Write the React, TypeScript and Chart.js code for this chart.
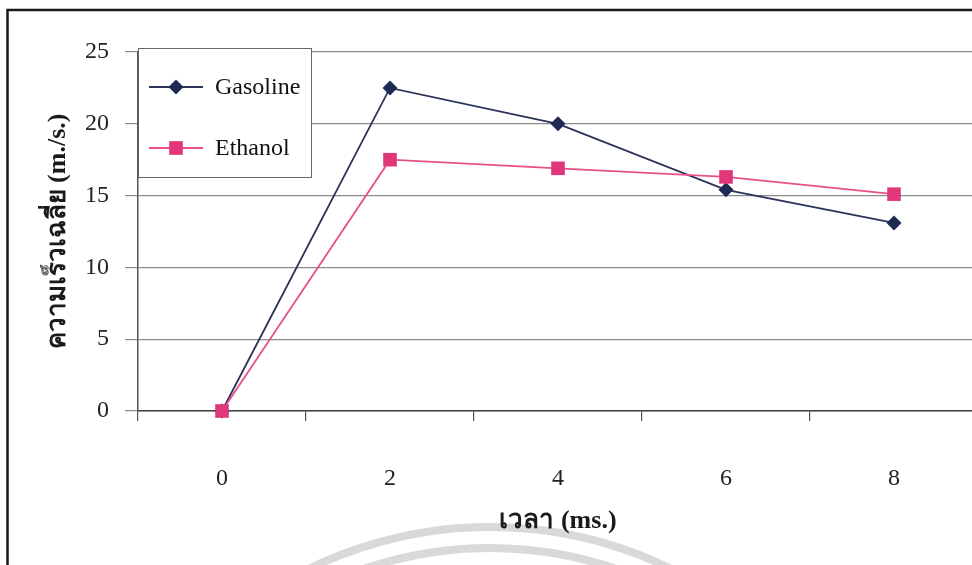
import React, { useEffect, useRef } from "react";
import { Chart, registerables } from "chart.js";

Chart.register(...registerables);

const categories = ["0", "2", "4", "6", "8"];
const gasoline = [0, 22.5, 20.0, 15.4, 13.1];
const ethanol = [0, 17.5, 16.9, 16.3, 15.1];
const seriesNames = ["Gasoline", "Ethanol"];
const xTitle = "เวลา (ms.)";
const yTitle = "ความเร็วเฉลี่ย (m./s.)";
const yMin = 0;
const yMax = 25;
const yStep = 5;

const FONT = '"Liberation Serif", "Times New Roman", "DejaVu Serif", serif';
const GAS_LINE = "#2b3358";
const GAS_POINT = "#1f2a52";
const ETH_LINE = "#e8508a";
const ETH_POINT = "#e0367a";

const framePlugin = {
  id: "frame",
  beforeDraw(chart: any) {
    const ctx = chart.ctx;
    ctx.save();
    ctx.fillStyle = "#ffffff";
    ctx.fillRect(0, 0, chart.width, chart.height);
    // faint watermark arcs from the scanned page
    ctx.strokeStyle = "#d9d9d9";
    ctx.lineWidth = 8;
    ctx.beginPath();
    ctx.arc(490, 939, 412, Math.PI * 1.15, Math.PI * 1.85);
    ctx.stroke();
    ctx.beginPath();
    ctx.arc(490, 939, 391, Math.PI * 1.15, Math.PI * 1.85);
    ctx.stroke();
    // outer frame
    ctx.strokeStyle = "#1a1a1a";
    ctx.lineWidth = 2.5;
    ctx.strokeRect(7.5, 10, 1200, 900);
    ctx.restore();
  },
};

const legendPlugin = {
  id: "boxLegend",
  afterDraw(chart: any) {
    const ctx = chart.ctx;
    const left = chart.chartArea.left;
    const top = 48;
    const w = 173;
    const h = 129;
    ctx.save();
    ctx.fillStyle = "#ffffff";
    ctx.fillRect(left, top, w, h);
    ctx.strokeStyle = "#666666";
    ctx.lineWidth = 1;
    ctx.strokeRect(left + 0.5, top + 0.5, w, h);
    const rows = [top + 39, top + 100];
    chart.data.datasets.forEach((ds: any, i: number) => {
      const y = rows[i];
      ctx.strokeStyle = ds.borderColor;
      ctx.lineWidth = 1.8;
      ctx.beginPath();
      ctx.moveTo(left + 11, y);
      ctx.lineTo(left + 65, y);
      ctx.stroke();
      ctx.fillStyle = ds.pointBackgroundColor;
      ctx.beginPath();
      if (ds.pointStyle === "rectRot") {
        const r = 7.5;
        ctx.moveTo(left + 38 - r, y);
        ctx.lineTo(left + 38, y - r);
        ctx.lineTo(left + 38 + r, y);
        ctx.lineTo(left + 38, y + r);
        ctx.closePath();
      } else {
        ctx.rect(left + 38 - 6.8, y - 6.8, 13.6, 13.6);
      }
      ctx.fill();
      ctx.fillStyle = "#111111";
      ctx.font = `24px ${FONT}`;
      ctx.textAlign = "left";
      ctx.textBaseline = "middle";
      ctx.fillText(ds.label, left + 77, y + 1);
    });
    ctx.restore();
  },
};

export default function App() {
  const ref = useRef<HTMLCanvasElement | null>(null);

  useEffect(() => {
    document.body.style.margin = "0";
    const canvas = ref.current;
    if (!canvas) return;
    const chart = new Chart(canvas, {
      type: "line",
      data: {
        labels: categories,
        datasets: [
          {
            label: seriesNames[0],
            data: gasoline,
            borderColor: GAS_LINE,
            backgroundColor: GAS_POINT,
            pointBackgroundColor: GAS_POINT,
            pointBorderColor: GAS_POINT,
            pointStyle: "rectRot",
            pointRadius: 7.5,
            pointBorderWidth: 0,
            borderWidth: 1.8,
            tension: 0,
            clip: false,
            order: 1,
          } as any,
          {
            label: seriesNames[1],
            data: ethanol,
            borderColor: ETH_LINE,
            backgroundColor: ETH_POINT,
            pointBackgroundColor: ETH_POINT,
            pointBorderColor: ETH_POINT,
            pointStyle: "rect",
            pointRadius: 9.6,
            pointBorderWidth: 0,
            borderWidth: 1.8,
            tension: 0,
            clip: false,
            order: 0,
          } as any,
        ],
      },
      options: {
        animation: false,
        responsive: false,
        devicePixelRatio: 1,
        layout: { padding: { left: 0, top: 52, right: 22, bottom: 0 } },
        plugins: {
          legend: { display: false },
          tooltip: { enabled: false },
        },
        scales: {
          x: {
            type: "category",
            offset: true,
            grid: {
              display: true,
              drawOnChartArea: false,
              drawTicks: true,
              tickLength: 10,
              offset: true,
              color: "#555555",
              lineWidth: 1.2,
            },
            border: { display: true, color: "#444444", width: 1.5 },
            ticks: {
              color: "#222222",
              font: { family: FONT, size: 24 },
              padding: 43,
              maxRotation: 0,
            },
            title: {
              display: true,
              text: xTitle,
              color: "#1a1a1a",
              font: { family: FONT, size: 26, weight: "bold" },
              padding: { top: 0, bottom: 28 },
            },
            afterFit(scale: any) {
              scale.height = 154;
            },
          },
          y: {
            min: yMin,
            max: yMax,
            ticks: {
              stepSize: yStep,
              color: "#222222",
              font: { family: FONT, size: 24 },
              padding: 16,
            },
            grid: {
              color: "#8a8a8a",
              lineWidth: 1.2,
              drawTicks: true,
              tickLength: 13,
            },
            border: { display: true, color: "#555555", width: 1.5 },
            title: {
              display: true,
              text: yTitle,
              color: "#1a1a1a",
              font: { family: FONT, size: 26, weight: "bold" },
              padding: { top: 43, bottom: 0 },
            },
            afterFit(scale: any) {
              scale.width = 138;
            },
          },
        },
      },
      plugins: [framePlugin, legendPlugin],
    });
    return () => chart.destroy();
  }, []);

  return (
    <div
      style={{
        position: "fixed",
        left: 0,
        top: 0,
        width: 972,
        height: 565,
        overflow: "hidden",
        background: "#ffffff",
      }}
    >
      <canvas ref={ref} width={1000} height={565} style={{ display: "block" }} />
    </div>
  );
}
